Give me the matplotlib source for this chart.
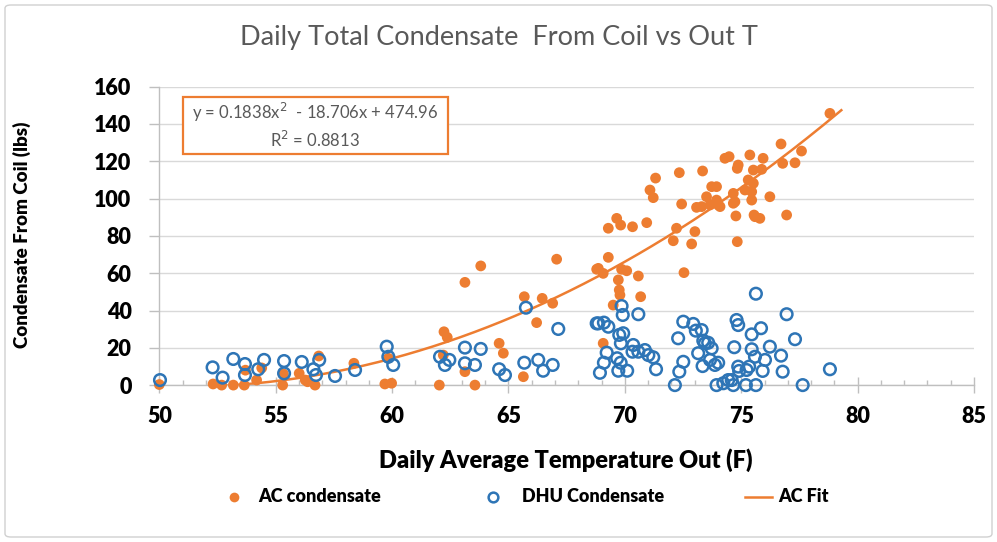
import numpy as np
import matplotlib
matplotlib.use("Agg")
import matplotlib.pyplot as plt
from matplotlib.lines import Line2D
from matplotlib.patches import FancyBboxPatch, Rectangle

plt.rcParams['font.family'] = ['Lato', 'DejaVu Sans']

# ---------------- data ----------------
ac_x = [50.0, 52.31, 52.68, 53.18, 53.65, 53.7, 54.40, 54.18, 55.33, 55.30, 56.01, 56.27, 56.85, 56.37, 56.69,
        58.36, 59.84, 59.69, 59.98, 62.03, 62.23, 62.37, 62.20, 63.13, 63.81, 63.13, 63.56, 64.60, 64.78,
        65.64, 65.68, 66.21, 66.45, 66.90, 67.07, 68.79, 69.07, 71.08, 71.22, 71.32, 72.44, 73.08, 69.29,
        69.65, 69.82, 70.33, 70.94, 72.22, 72.08, 73.01, 72.87, 69.29, 68.86, 69.07, 69.86, 70.08, 70.58,
        72.54, 69.72, 69.76, 69.79, 70.68, 69.50, 78.81, 77.59, 76.71, 77.31, 76.78, 75.37, 75.94, 74.30,
        74.48, 74.87, 74.83, 75.52, 75.88, 73.34, 75.30, 75.52, 75.16, 75.45, 74.66, 74.66, 73.73, 73.94,
        73.51, 73.94, 74.01, 73.66, 73.30, 75.45, 76.23, 74.77, 75.55, 75.80, 76.95, 74.83, 72.34, 74.73,
        74.09, 75.59]
ac_y = [0.3, 0.6, 0.0, 0.0, 0.0, 8.0, 9.2, 2.7, 6.0, 0.0, 6.3, 2.7, 15.6, 1.8, 0.0,
        11.7, 14.4, 0.6, 1.0, 0.0, 28.6, 25.6, 16.1, 55.1, 63.9, 7.2, 0.0, 22.4, 17.1,
        4.5, 47.4, 33.5, 46.5, 43.9, 67.5, 62.1, 22.4, 104.6, 100.5, 111.0, 97.1, 95.3, 84.1,
        89.4, 85.8, 84.9, 87.1, 84.1, 77.4, 82.3, 75.7, 68.5, 62.6, 59.9, 62.1, 61.3, 58.5,
        60.3, 56.4, 51.0, 48.3, 47.4, 42.9, 145.7, 125.5, 129.3, 119.2, 118.9, 123.4, 121.6, 121.6,
        122.5, 118.0, 116.2, 115.3, 115.7, 114.8, 110.0, 108.2, 104.6, 103.7, 102.8, 97.5, 106.4, 106.4,
        101.0, 99.2, 96.6, 96.6, 95.7, 99.2, 101.0, 90.7, 91.2, 89.4, 91.2, 76.9, 113.9, 98.3,
        95.7, 90.3]

dhu_x = [50.03, 52.29, 52.72, 53.18, 53.68, 53.68, 54.50, 54.25, 55.36, 55.36, 56.12, 56.62, 56.87, 56.73,
         57.55, 58.41, 59.77, 59.84, 60.05, 62.06, 62.27, 62.46, 63.13, 63.13, 63.56, 63.81, 64.60, 64.85,
         65.68, 65.75, 66.28, 66.49, 66.90, 67.14, 68.79, 69.86, 69.91, 70.58, 68.86, 69.10, 69.29, 69.76,
         69.93, 69.83, 69.22, 69.10, 68.93, 69.67, 69.82, 69.72, 70.10, 70.36, 70.33, 70.58, 70.86, 71.01,
         71.22, 71.34, 72.29, 72.51, 72.94, 73.05, 72.51, 72.34, 72.15, 73.15, 73.44, 73.58, 73.73, 73.34,
         73.66, 73.87, 74.01, 73.94, 74.23, 74.44, 75.63, 76.95, 74.80, 74.87, 75.85, 75.45, 77.31, 73.30,
         73.37, 74.70, 75.45, 76.23, 76.71, 75.59, 76.02, 74.87, 75.34, 74.91, 75.23, 75.92, 76.78, 78.81,
         74.59, 74.66, 75.20, 75.63, 77.64]
dhu_y = [2.7, 9.5, 4.0, 14.0, 11.3, 5.4, 13.5, 8.5, 12.9, 6.3, 12.4, 8.5, 13.5, 5.4,
         4.9, 8.1, 20.6, 15.2, 10.8, 15.2, 10.8, 13.5, 20.1, 11.7, 10.8, 19.4, 8.5, 5.4,
         12.0, 41.5, 13.5, 7.7, 10.8, 30.1, 33.1, 42.4, 37.6, 38.0, 33.1, 33.5, 31.3, 26.9,
         27.8, 22.4, 17.4, 12.0, 6.6, 14.4, 12.0, 7.7, 7.7, 21.5, 17.9, 17.9, 18.8, 16.1,
         14.9, 8.5, 25.1, 34.0, 32.8, 29.2, 12.5, 7.2, 0.0, 17.1, 22.4, 22.7, 19.7, 10.2,
         13.5, 10.8, 12.0, 0.0, 1.0, 2.7, 49.0, 38.0, 34.9, 32.2, 30.5, 27.2, 24.6, 29.5,
         23.8, 20.3, 19.2, 20.6, 15.8, 15.2, 13.5, 9.9, 9.9, 7.6, 8.1, 7.6, 7.2, 8.5,
         2.7, 0.0, 0.0, 0.0, 0.0]

fit_coef = [0.1838, -18.706, 474.96]
fit_r2 = 0.8813
fit_x_start, fit_x_end = 50.0, 79.3

x_ticks = [50, 55, 60, 65, 70, 75, 80, 85]
y_ticks = [0, 20, 40, 60, 80, 100, 120, 140, 160]

title = "Daily Total Condensate  From Coil vs Out T"
x_label = "Daily Average Temperature Out (F)"
y_label = "Condensate From Coil (lbs)"
legend_labels = ["AC condensate", "DHU Condensate", "AC Fit"]

ORANGE = "#ED7D31"
BLUE = "#2E75B6"
GRID = "#D9D9D9"
AXIS = "#BFBFBF"
TXT = "#000000"
HEAVY = 'heavy'

# ---------------- figure ----------------
W, H = 997, 542
fig = plt.figure(figsize=(W / 100, H / 100), dpi=100)
fig.patch.set_facecolor("white")

def fx(px):
    return px / W

def fy(py):
    return 1 - py / H

# outer border
fig.patches.append(FancyBboxPatch((fx(5), fy(537)), fx(987), (532) / H,
                                  boxstyle="round,pad=0,rounding_size=0.006",
                                  transform=fig.transFigure, fill=False,
                                  edgecolor="#D0D0D0", linewidth=1.0))

ax = fig.add_axes([fx(159.3), fy(385.1), fx(974 - 159.3), (385.1 - 86.7) / H])
ax.set_xlim(50, 85)
ax.set_ylim(0, 160)

ax.set_yticks(y_ticks)
ax.set_xticks(x_ticks)
ax.set_xticks(np.arange(50, 86, 1), minor=True)
ax.grid(axis='y', color=GRID, linewidth=1.0)
ax.set_axisbelow(True)

for s in ['top', 'right']:
    ax.spines[s].set_visible(False)
for s in ['left', 'bottom']:
    ax.spines[s].set_color(AXIS)
    ax.spines[s].set_linewidth(1.0)

ax.tick_params(axis='y', which='major', direction='out', length=7, width=1,
               color=AXIS, pad=13, labelsize=15.5)
ax.tick_params(axis='x', which='major', direction='inout', length=12, width=1,
               color=AXIS, pad=9, labelsize=15.5)
ax.tick_params(axis='x', which='minor', direction='in', length=3.6, width=1, color=AXIS)
for lab in ax.get_xticklabels() + ax.get_yticklabels():
    lab.set_fontweight(HEAVY)
    lab.set_color(TXT)

# fit line
xf = np.linspace(fit_x_start, fit_x_end, 300)
yf = np.polyval(fit_coef, xf)
ax.plot(xf, yf, color=ORANGE, linewidth=1.8, zorder=2)

# scatter
ax.scatter(ac_x, ac_y, s=60, color=ORANGE, edgecolors='none', zorder=3, clip_on=False)
ax.scatter(dhu_x, dhu_y, s=70, facecolors='none', edgecolors=BLUE, linewidths=1.8,
           zorder=4, clip_on=False)

# equation box
fig.patches.append(Rectangle((fx(183), fy(154)), fx(448 - 183), (154 - 97) / H,
                             transform=fig.transFigure, fill=True, facecolor='white',
                             edgecolor=ORANGE, linewidth=1.6, zorder=5))
a, b, c = fit_coef
eq = f"y = {a:.4f}x$^2$  - {abs(b):.3f}x + {c:.2f}"
fig.text(fx(315), fy(112), eq, ha='center', va='center', fontsize=12, color="#595959", zorder=6)
fig.text(fx(315), fy(140), f"R$^2$ = {fit_r2:.4f}", ha='center', va='center', fontsize=12,
         color="#595959", zorder=6)

# titles
fig.text(0.5, fy(38), title, ha='center', va='center', fontsize=19.5, color="#595959")
fig.text(fx(566), fy(460), x_label, ha='center', va='center', fontsize=17, fontweight=HEAVY, color=TXT)
fig.text(fx(22), fy(235), y_label, ha='center', va='center', rotation=90, fontsize=13.5,
         fontweight=HEAVY, color=TXT)

# legend
ly = fy(497)
fig.add_artist(Line2D([fx(234)], [ly], marker='o', markersize=7, color=ORANGE,
                      markeredgecolor='none', linestyle='none', transform=fig.transFigure))
fig.text(fx(258), ly, legend_labels[0], ha='left', va='center', fontsize=13, fontweight=HEAVY)
fig.add_artist(Line2D([fx(493)], [ly], marker='o', markersize=7, markerfacecolor='none',
                      markeredgecolor=BLUE, markeredgewidth=1.8, linestyle='none',
                      transform=fig.transFigure))
fig.text(fx(522), ly, legend_labels[1], ha='left', va='center', fontsize=13, fontweight=HEAVY)
fig.add_artist(Line2D([fx(745), fx(772)], [ly, ly], color=ORANGE, linewidth=1.8,
                      transform=fig.transFigure))
fig.text(fx(778), ly, legend_labels[2], ha='left', va='center', fontsize=13, fontweight=HEAVY)

fig.savefig("out.png", dpi=100)
